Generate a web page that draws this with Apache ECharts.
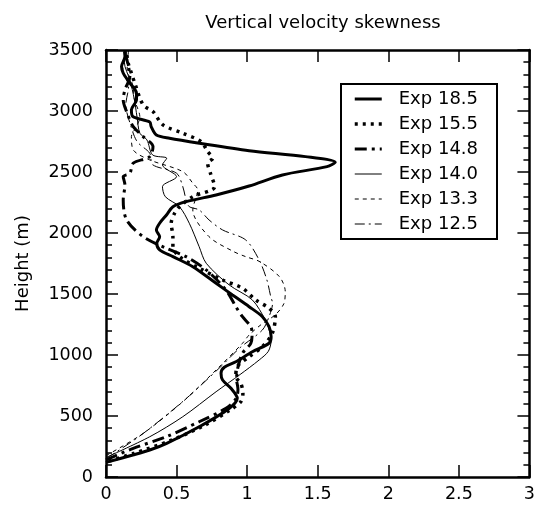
<!DOCTYPE html>
<html>
<head>
<meta charset="utf-8">
<script src="https://cdn.jsdelivr.net/npm/echarts@6/dist/echarts.min.js"></script>
<style>
  html, body { margin: 0; padding: 0; background: #fff; }
  #chart { width: 538px; height: 507px; }
</style>
</head>
<body>
<div id="chart"></div>
<script>
// Skewness profiles: [skewness, height (m)]
const exp185 = [[0.0,120],[0.19,180],[0.31,221],[0.43,276],[0.66,412],[0.87,560],[0.93,645],[0.885,727],[0.826,795],[0.815,850],[0.838,900],[0.92,945],[1.037,1027],[1.155,1096],[1.17,1150],[1.155,1232],[1.108,1314],[1.014,1396],[0.896,1492],[0.78,1588],[0.615,1724],[0.474,1806],[0.38,1861],[0.36,1916],[0.38,1970],[0.357,2025],[0.38,2080],[0.43,2150],[0.474,2216],[0.568,2257],[0.78,2312],[1.014,2385],[1.25,2476],[1.566,2544],[1.624,2580],[1.413,2626],[1.014,2675],[0.662,2736],[0.45,2777],[0.357,2804],[0.32,2872],[0.31,2910],[0.19,2955],[0.18,3010],[0.216,3091],[0.216,3146],[0.169,3228],[0.122,3310],[0.11,3364],[0.134,3446],[0.134,3500]];
const exp155 = [[0.02,130],[0.2,195],[0.45,295],[0.7,425],[0.88,550],[0.955,617],[0.97,686],[0.955,768],[0.92,822],[0.93,904],[1.014,986],[1.108,1068],[1.178,1178],[1.2,1314],[1.155,1383],[1.061,1451],[0.967,1547],[0.826,1615],[0.662,1711],[0.521,1806],[0.474,1888],[0.474,1970],[0.462,2080],[0.486,2162],[0.521,2216],[0.615,2298],[0.77,2380],[0.74,2490],[0.72,2572],[0.756,2613],[0.72,2667],[0.674,2749],[0.544,2818],[0.404,2886],[0.333,2995],[0.263,3050],[0.204,3228],[0.18,3310],[0.157,3392],[0.146,3474],[0.14,3500]];
const exp148 = [[0.0,140],[0.193,235],[0.427,330],[0.66,453],[0.85,563],[0.92,640],[0.935,720],[0.925,800],[0.935,900],[0.967,1014],[1.026,1096],[1.035,1178],[1.026,1232],[0.967,1314],[0.92,1396],[0.85,1533],[0.71,1697],[0.568,1806],[0.427,1875],[0.263,1970],[0.146,2107],[0.122,2271],[0.134,2394],[0.122,2462],[0.169,2490],[0.193,2572],[0.31,2626],[0.333,2708],[0.263,2790],[0.193,2872],[0.146,2995],[0.122,3091],[0.134,3173],[0.169,3282],[0.157,3378],[0.134,3474],[0.13,3500]];
const exp140 = [[0.0,160],[0.31,330],[0.544,494],[0.78,699],[0.95,840],[1.085,959],[1.15,1030],[1.17,1120],[1.15,1230],[1.13,1287],[1.037,1451],[0.873,1574],[0.71,1752],[0.66,1888],[0.59,2080],[0.52,2216],[0.42,2298],[0.40,2380],[0.5,2462],[0.40,2558],[0.43,2613],[0.33,2640],[0.29,2763],[0.24,2818],[0.22,2950],[0.2,3100],[0.17,3250],[0.13,3400],[0.15,3500]];
const exp133 = [[0.0,175],[0.263,357],[0.544,617],[0.78,877],[0.967,1096],[1.014,1164],[1.1,1250],[1.2,1330],[1.26,1420],[1.27,1520],[1.23,1640],[1.09,1765],[0.99,1806],[0.9,1850],[0.73,1970],[0.615,2189],[0.65,2353],[0.615,2408],[0.544,2503],[0.31,2599],[0.193,2681],[0.18,2790],[0.216,2872],[0.24,2950],[0.2,3100],[0.193,3200],[0.15,3350],[0.16,3500]];
const exp125 = [[0.0,150],[0.25,345],[0.55,625],[0.8,890],[0.95,1060],[1.108,1205],[1.155,1314],[1.18,1424],[1.167,1479],[1.14,1615],[1.085,1779],[0.99,1943],[0.826,2025],[0.73,2107],[0.66,2189],[0.59,2216],[0.568,2271],[0.544,2380],[0.5,2490],[0.33,2560],[0.31,2654],[0.22,2750],[0.17,2900],[0.14,3050],[0.16,3200],[0.12,3350],[0.14,3480],[0.13,3500]];

const seriesNames = ['Exp 18.5', 'Exp 15.5', 'Exp 14.8', 'Exp 14.0', 'Exp 13.3', 'Exp 12.5'];
const seriesData = [exp185, exp155, exp148, exp140, exp133, exp125];
const lineStyles = [
  { width: 3, type: 'solid' },
  { width: 3.5, type: [3, 5] },
  { width: 3, type: [12, 5, 3, 5] },
  { width: 1, type: 'solid' },
  { width: 1, type: [4, 4] },
  { width: 1, type: [10, 4, 2, 4] }
];

const xTicks = { min: 0, max: 3, interval: 0.5 };
const yTicks = { min: 0, max: 3500, interval: 500 };

const FONT = '"DejaVu Sans", Verdana, sans-serif';

const chart = echarts.init(document.getElementById('chart'), null, { renderer: 'canvas' });

const axisLine = { show: true, onZero: false, lineStyle: { color: '#000', width: 2.5 } };
const majorTick = { inside: true, length: 12, lineStyle: { color: '#000', width: 1.5 } };
const minorTick = { show: true, splitNumber: 5, length: 6, lineStyle: { color: '#000', width: 1.5 } };
const plainNumber = v => String(v);

chart.setOption({
  animation: false,
  backgroundColor: '#fff',
  title: {
    text: 'Vertical velocity skewness',
    left: 318, top: 9, textAlign: 'center',
    textStyle: { fontFamily: FONT, fontSize: 18, fontWeight: 'normal', color: '#000' }
  },
  grid: { left: 106, right: 6, top: 50, bottom: 30, containLabel: false },
  legend: {
    orient: 'vertical',
    left: 341, top: 84,
    padding: [6, 19, 6, 12],
    itemWidth: 27, itemHeight: 14, itemGap: 7,
    itemStyle: { opacity: 0 },
    lineStyle: { width: 'inherit', type: 'inherit', color: 'inherit' },
    backgroundColor: '#fff',
    borderColor: '#000', borderWidth: 2, borderRadius: 0,
    textStyle: { fontFamily: FONT, fontSize: 18, color: '#000', padding: [0, 0, 0, 12] },
    data: seriesNames
  },
  xAxis: [
    {
      type: 'value', position: 'bottom', ...xTicks,
      axisLine, splitLine: { show: false }, axisTick: majorTick,
      axisLabel: { margin: 8, fontFamily: FONT, fontSize: 17.5, color: '#000', formatter: plainNumber }
    },
    {
      type: 'value', position: 'top', ...xTicks,
      axisLine, splitLine: { show: false }, axisTick: majorTick,
      axisLabel: { show: false }
    }
  ],
  yAxis: [
    {
      type: 'value', position: 'left', ...yTicks,
      name: 'Height (m)', nameLocation: 'middle', nameGap: 74, nameRotate: 90,
      nameTextStyle: { fontFamily: FONT, fontSize: 18, color: '#000' },
      axisLine, splitLine: { show: false }, axisTick: majorTick, minorTick,
      axisLabel: { margin: 13, fontFamily: FONT, fontSize: 17.5, color: '#000', formatter: plainNumber }
    },
    {
      type: 'value', position: 'right', ...yTicks,
      axisLine, splitLine: { show: false }, axisTick: majorTick, minorTick,
      axisLabel: { show: false }
    }
  ],
  series: seriesNames.map((name, i) => ({
    name,
    type: 'line',
    xAxisIndex: 0, yAxisIndex: 0,
    data: seriesData[i],
    smooth: 0.3,
    symbol: 'none',
    clip: true,
    color: '#000',
    lineStyle: { color: '#000', width: lineStyles[i].width, type: lineStyles[i].type }
  }))
});
</script>
</body>
</html>
